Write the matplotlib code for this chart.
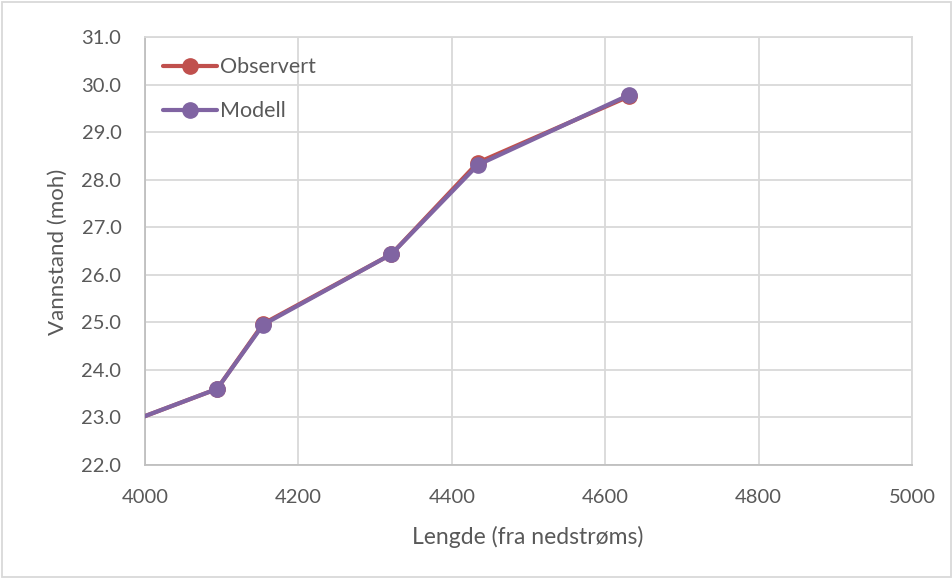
import matplotlib
matplotlib.use("Agg")
import matplotlib.pyplot as plt
from matplotlib.patches import Rectangle

# Data
lengde = [3900, 4094, 4154, 4321, 4434, 4631]
observert = [22.42, 23.60, 24.97, 26.43, 28.36, 29.75]
modell = [22.42, 23.60, 24.95, 26.43, 28.31, 29.78]

x_ticks = [4000, 4200, 4400, 4600, 4800, 5000]
y_ticks = [22.0, 23.0, 24.0, 25.0, 26.0, 27.0, 28.0, 29.0, 30.0, 31.0]

plt.rcParams['font.family'] = ['Lato', 'DejaVu Sans']
txt = '#595959'
grid = '#d9d9d9'

fig = plt.figure(figsize=(9.53, 5.79), dpi=100)
ax = fig.add_axes([145/953, 1-465/579, (912-145)/953, (465-37)/579])

ax.plot(lengde, observert, color='#C0504D', lw=3, marker='o', ms=11,
        label='Observert', solid_capstyle='round', zorder=3)
ax.plot(lengde, modell, color='#8064A2', lw=3, marker='o', ms=11,
        label='Modell', solid_capstyle='round', zorder=4)

ax.set_xlim(4000, 5000)
ax.set_ylim(22, 31)
ax.set_xticks(x_ticks)
ax.set_yticks(y_ticks)
ax.set_yticklabels([f"{v:.1f}" for v in y_ticks])
ax.grid(True, color=grid, lw=1.3, zorder=0)
ax.set_axisbelow(True)
for s in ['top', 'right']:
    ax.spines[s].set_color(grid)
    ax.spines[s].set_linewidth(1.3)
for s in ['left', 'bottom']:
    ax.spines[s].set_color('#bfbfbf')
    ax.spines[s].set_linewidth(1.3)
ax.tick_params(length=0, colors=txt, labelsize=14.5)
ax.tick_params(axis='x', pad=17)
ax.tick_params(axis='y', pad=17)

ax.set_xlabel('Lengde (fra nedstrøms)', fontsize=16.5, color=txt)
ax.set_ylabel('Vannstand (moh)', fontsize=16, color=txt)
ax.xaxis.set_label_coords((528-145)/767, -(537-465)/428)
ax.yaxis.set_label_coords(-(145-58)/767, (465-252)/428)
ax.xaxis.label.set_va('center')
ax.yaxis.label.set_va('center')

leg = ax.legend(loc='upper left', frameon=False, fontsize=15.5, labelcolor=txt,
                handlelength=2.5, handletextpad=0.15, labelspacing=1.1,
                bbox_to_anchor=(0.0, 0.995), borderaxespad=0.45)

fig.patches.append(Rectangle((2/953, 2/579), 949/953, 575/579, transform=fig.transFigure,
                             fill=False, edgecolor=grid, lw=1.3))

fig.savefig('out.png', dpi=100)
